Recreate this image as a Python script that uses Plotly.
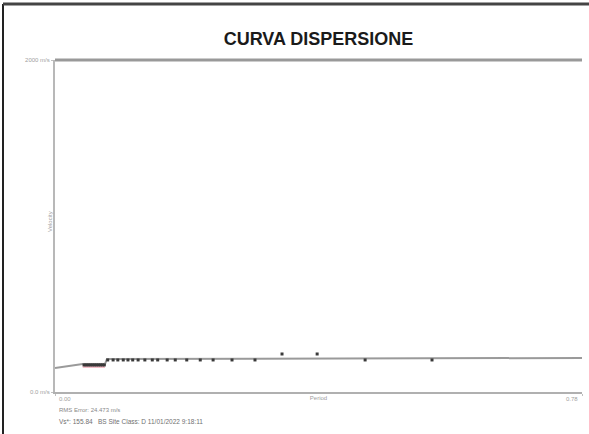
import plotly.graph_objects as go

# ---- data ----
title_text = "CURVA DISPERSIONE"
x_title = "Period"
y_title = "Velocity"
x_tick_vals = [0.0, 0.78]
x_tick_text = ["0.00", "0.78"]
y_tick_vals = [0, 2000]
y_tick_text = ["0.0 m/s", "2000 m/s"]
rms_text = "RMS Error: 24.473 m/s"
info_text = "Vs*: 155.84   BS Site Class: D 11/01/2022 9:18:11"

# model (calculated) dispersion curve
model_period = [0.0, 0.041, 0.074, 0.077, 0.78]
model_velocity = [145, 169, 169, 199, 205]

# picked dispersion points
pick_period = [0.043, 0.046, 0.049, 0.052, 0.055, 0.058, 0.061, 0.064, 0.067, 0.070, 0.073,
               0.078, 0.086, 0.093, 0.101, 0.108, 0.115, 0.123, 0.133, 0.144, 0.152, 0.166,
               0.178, 0.195, 0.215, 0.234, 0.262, 0.296, 0.336, 0.388, 0.459, 0.558]
pick_velocity = [163, 163, 163, 163, 163, 163, 163, 163, 163, 163, 163,
                 193, 193, 193, 193, 193, 193, 193, 193, 193, 193, 193,
                 193, 193, 193, 193, 193, 193, 229, 229, 193, 193]

# faint red pick band
red_period = [0.041, 0.074]
red_velocity = [160, 160]

W, H = 589, 434
L, R, T, B = 55, 7, 60, H - 392
PW, PH = W - L - R, H - T - B

fig = go.Figure()
fig.add_trace(go.Scatter(x=red_period, y=red_velocity, mode="lines",
                         line=dict(color="rgba(220,60,90,0.35)", width=5),
                         hoverinfo="skip", showlegend=False))
fig.add_trace(go.Scatter(x=model_period, y=model_velocity, mode="lines",
                         line=dict(color="#9a9a9a", width=2), showlegend=False))
fig.add_trace(go.Scatter(x=pick_period, y=pick_velocity, mode="markers",
                         marker=dict(symbol="square", size=3, color="#3a3a3a"),
                         showlegend=False))

axis_font = dict(family="Liberation Sans, Arial", size=6, color="#a0a0a0")

fig.update_layout(
    width=W, height=H,
    margin=dict(l=L, r=R, t=T, b=B),
    paper_bgcolor="white", plot_bgcolor="white",
    title=dict(text="<b>" + title_text + "</b>", x=(55 + 582) / 2 / W, xanchor="center",
               y=1 - 39 / H, yanchor="middle",
               font=dict(family="Liberation Sans, Arial", size=18, color="#1a1a1a")),
    xaxis=dict(range=[0, 0.78], tickvals=x_tick_vals, ticktext=["", ""],
               showgrid=False, zeroline=False, showline=True, linecolor="#b0b0b0",
               linewidth=2, ticks="outside", ticklen=2, tickcolor="#c0c0c0",
               tickfont=axis_font,
               title=dict(text=x_title, font=axis_font, standoff=0)),
    yaxis=dict(range=[0, 2000], tickvals=y_tick_vals, ticktext=y_tick_text,
               showgrid=False, zeroline=False, showline=True, linecolor="#b8b8b8",
               linewidth=2, ticks="outside", ticklen=2, tickcolor="#c0c0c0",
               tickfont=axis_font),
    showlegend=False,
)

# x tick labels placed inside the axis ends
fig.add_annotation(text=x_tick_text[0], x=x_tick_vals[0], xref="x", yref="paper",
                   y=-(399 - 392) / PH, xanchor="left", yanchor="middle", xshift=2,
                   showarrow=False, font=axis_font)
fig.add_annotation(text=x_tick_text[1], x=x_tick_vals[1], xref="x", yref="paper",
                   y=-(399 - 392) / PH, xanchor="right", yanchor="middle", xshift=-2,
                   showarrow=False, font=axis_font)

# y-axis title close to the axis line
fig.add_annotation(text=y_title, xref="paper", yref="paper", x=-5 / PW, y=(392 - 222) / PH,
                   textangle=-90, xanchor="center", yanchor="middle", showarrow=False,
                   font=axis_font)

# top frame line of the plot
fig.add_shape(type="line", xref="paper", yref="paper", x0=0, x1=1, y0=1, y1=1,
              line=dict(color="#999999", width=3))
# outer page border (left and top)
fig.add_shape(type="line", xref="paper", yref="paper",
              x0=-52 / PW, x1=-52 / PW, y0=-B / PH, y1=(392 - 4) / PH,
              line=dict(color="#222222", width=2))
fig.add_shape(type="line", xref="paper", yref="paper",
              x0=-52 / PW, x1=(W - L) / PW, y0=(392 - 4) / PH, y1=(392 - 4) / PH,
              line=dict(color="#444444", width=3))

fig.add_annotation(text=rms_text, xref="paper", yref="paper",
                   x=2 / PW, y=-(410 - 392) / PH, xanchor="left", yanchor="middle",
                   showarrow=False, font=dict(family="Liberation Sans, Arial", size=6, color="#888888"))
fig.add_annotation(text=info_text, xref="paper", yref="paper",
                   x=2 / PW, y=-(421 - 392) / PH, xanchor="left", yanchor="middle",
                   showarrow=False, font=dict(family="Liberation Sans, Arial", size=6.5, color="#707070"))

fig.write_html("out.html", config={"displayModeBar": False})
